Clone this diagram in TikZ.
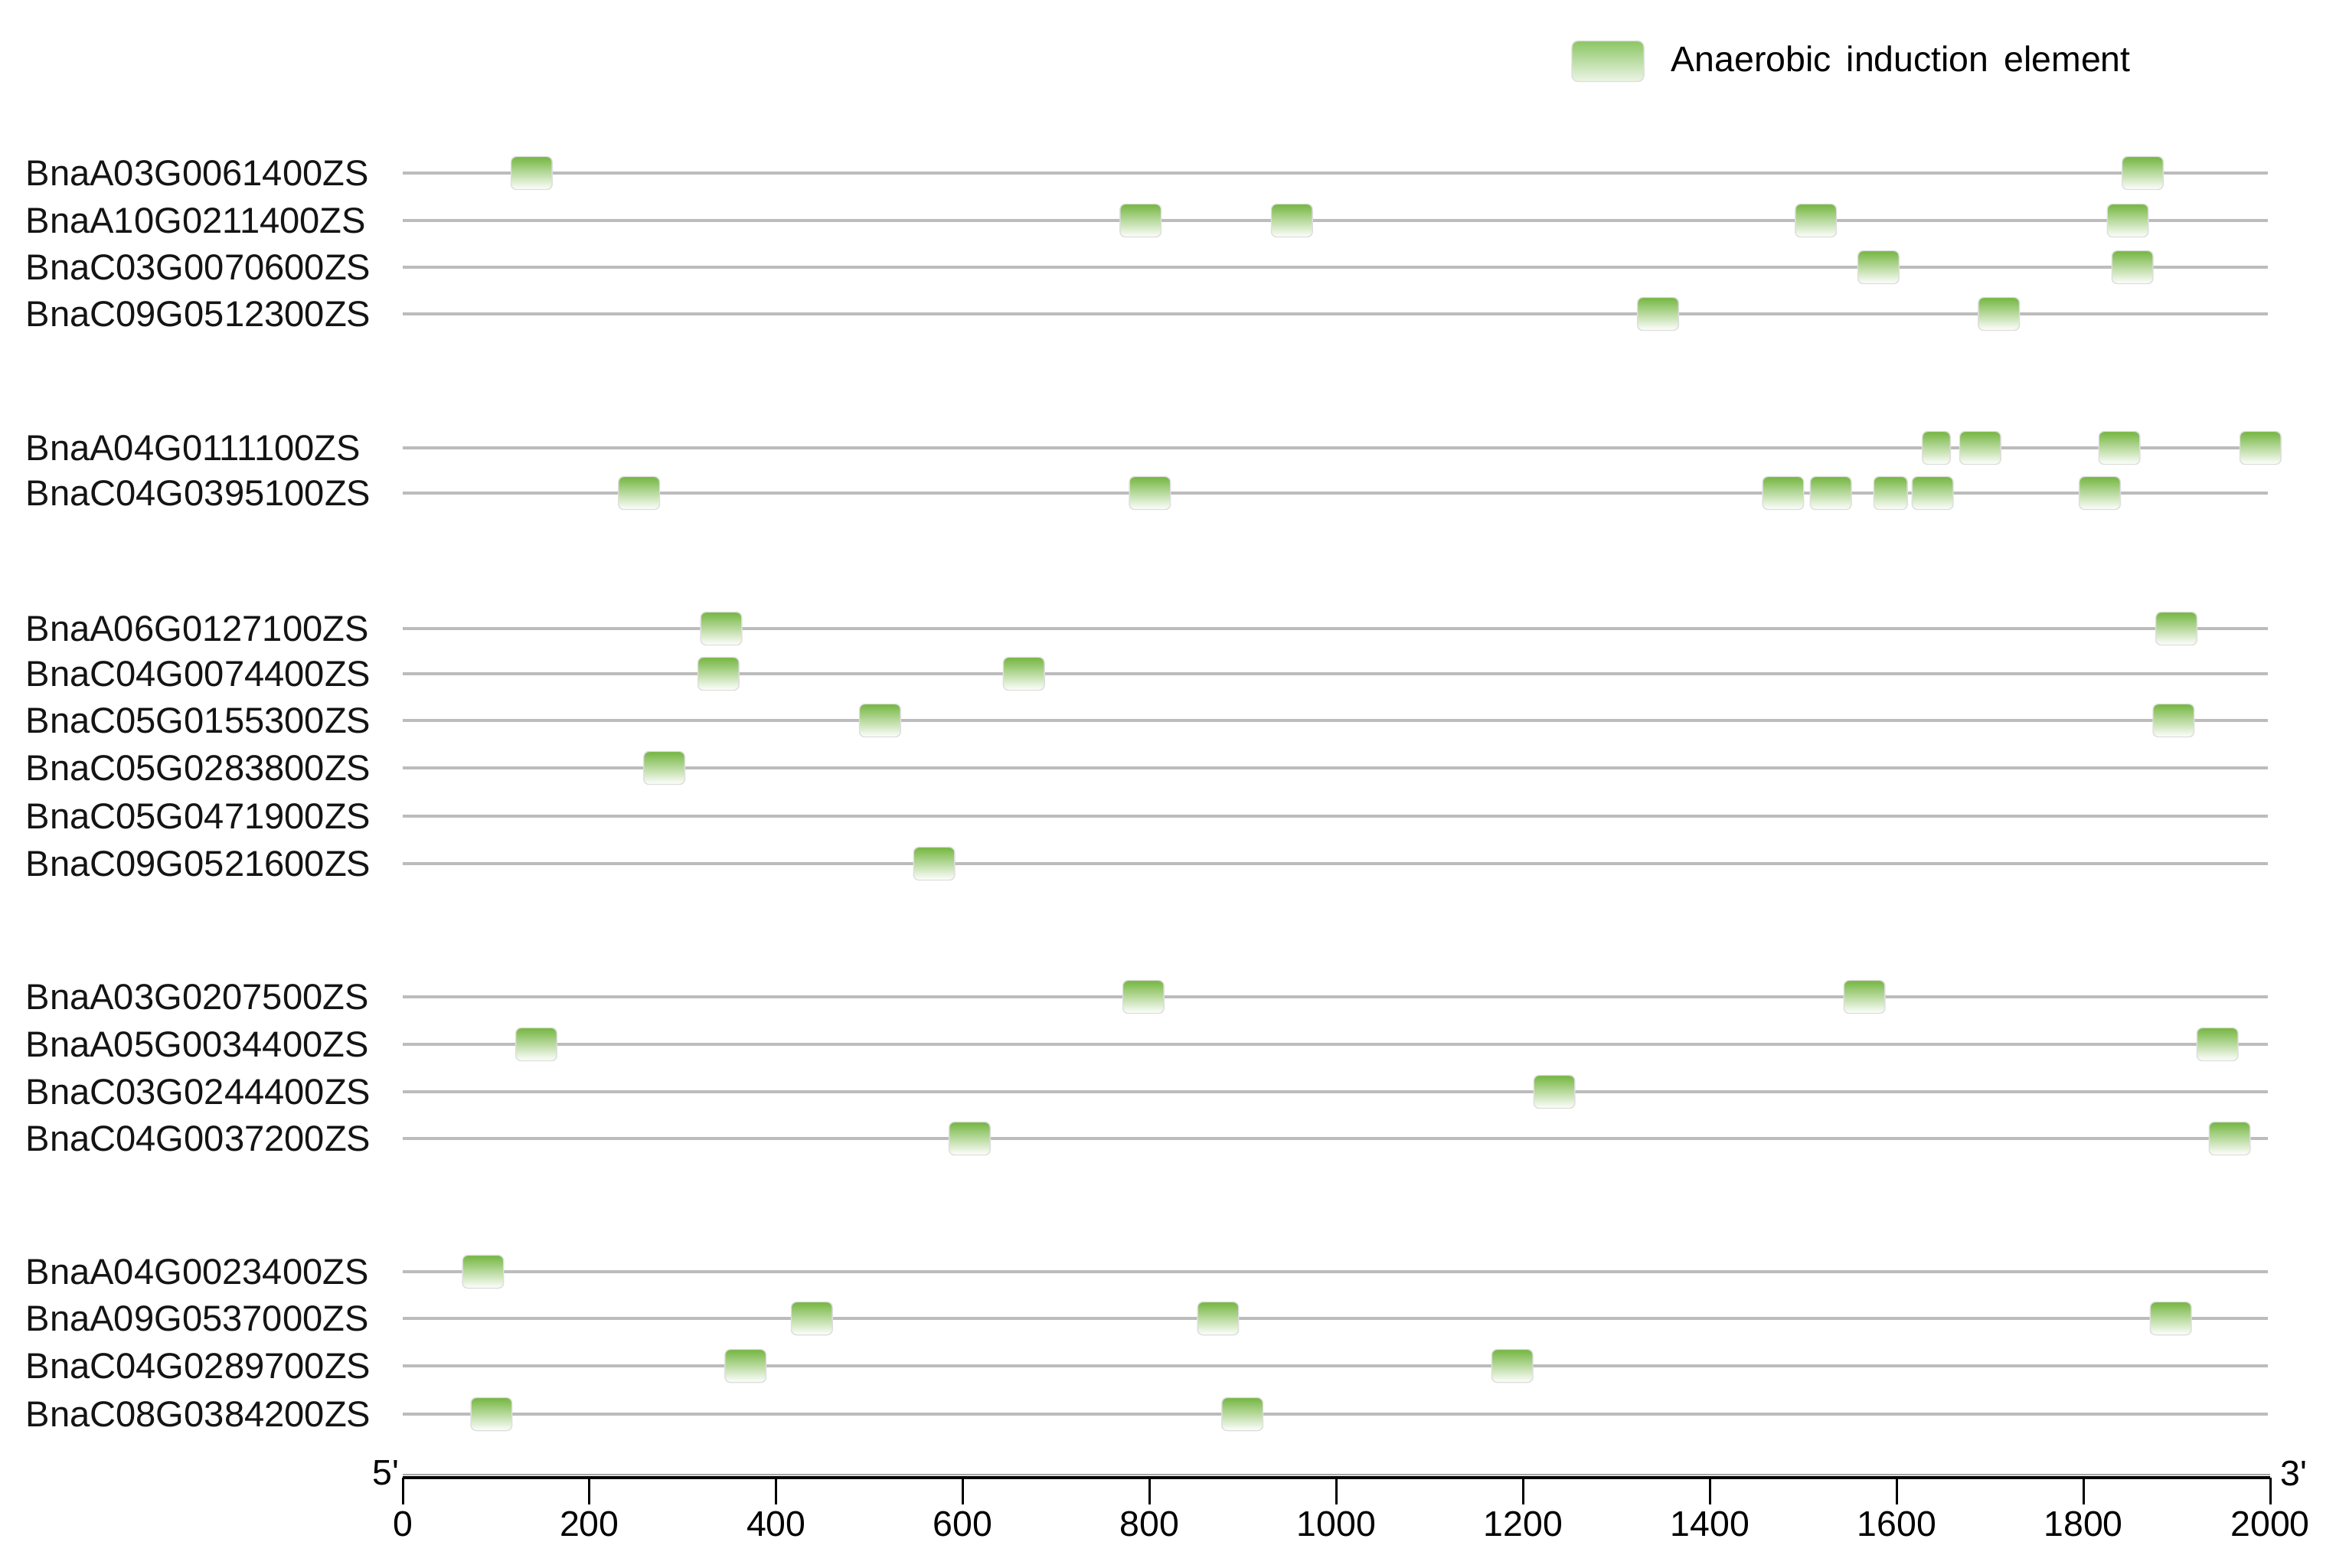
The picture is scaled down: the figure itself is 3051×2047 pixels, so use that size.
\documentclass[tikz,border=0pt]{standalone}
\usepackage{fontspec}
\setmainfont{Liberation Sans}
\definecolor{linegray}{RGB}{188,188,188}
\definecolor{boxedge}{RGB}{222,222,222}
\definecolor{greentop}{RGB}{116,182,64}
\definecolor{greenmid}{RGB}{184,220,152}
\definecolor{legtop}{RGB}{140,198,100}
\definecolor{legmid}{RGB}{196,228,172}
\definecolor{legbot}{RGB}{236,245,230}
\begin{document}
\begin{tikzpicture}[x=0.01cm,y=-0.01cm,
  genelabel/.style={anchor=west, inner sep=0pt, font=\fontsize{13.4}{15}\selectfont, text=black!92},
  geneline/.style={draw=linegray, line width=0.035cm},
  elem/.style={draw=boxedge, line width=0.4pt, rounded corners=0.07cm,
    minimum width=0.537cm, minimum height=0.43cm, inner sep=0pt,
    top color=greentop, middle color=greenmid, bottom color=white},
  legendbox/.style={draw=boxedge, line width=0.4pt, rounded corners=0.08cm,
    minimum width=0.94cm, minimum height=0.53cm, inner sep=0pt,
    top color=legtop, middle color=legmid, bottom color=legbot},
  axisline/.style={draw=black, line width=0.04cm},
  tickline/.style={draw=black, line width=0.03cm},
  ticklabel/.style={inner sep=0pt, font=\fontsize{13.2}{15}\selectfont},
  endlabel/.style={inner sep=0pt, font=\fontsize{13.2}{15}\selectfont},
  legendtext/.style={anchor=west, inner sep=0pt, font=\fontsize{13.2}{15}\selectfont}]
\fill[white] (0,0) rectangle (3051,2047);
\useasboundingbox (0,0) rectangle (3051,2047);

% legend
\node[legendbox] (legbox) at (2100,80) {};
\node[legendtext] (legtext) at (2182,77) {Anaerobic\hspace{0.2cm}induction\hspace{0.2cm}element};

% gene rows
\foreach \r/\y/\name in {
  1/226/BnaA03G0061400ZS, 2/288/BnaA10G0211400ZS, 3/349/BnaC03G0070600ZS, 4/410/BnaC09G0512300ZS,
  5/585/BnaA04G0111100ZS, 6/644/BnaC04G0395100ZS,
  7/821/BnaA06G0127100ZS, 8/880/BnaC04G0074400ZS, 9/941/BnaC05G0155300ZS, 10/1003/BnaC05G0283800ZS,
  11/1066/BnaC05G0471900ZS, 12/1128/BnaC09G0521600ZS,
  13/1302/BnaA03G0207500ZS, 14/1364/BnaA05G0034400ZS, 15/1426/BnaC03G0244400ZS, 16/1487/BnaC04G0037200ZS,
  17/1661/BnaA04G0023400ZS, 18/1722/BnaA09G0537000ZS, 19/1784/BnaC04G0289700ZS, 20/1847/BnaC08G0384200ZS}{
  \node[genelabel] (lab\r) at (33,\y) {\name};
  \coordinate (s\r) at (526,\y);
  \coordinate (e\r) at (2962,\y);
  \draw[geneline] (s\r) -- (e\r);
}

% elements: row / position (bp) / width (bp)
\foreach \r/\u/\w in {
  1/138/44, 1/1863/44,
  2/790/44, 2/952/44, 2/1513/44, 2/1847/44,
  3/1580/44, 3/1852/44,
  4/1344/44, 4/1709/44,
  5/1642/30, 5/1689/44, 5/1838/44, 5/1989/44,
  6/253/44, 6/800/44, 6/1478/44, 6/1529/44, 6/1593/36, 6/1638/44, 6/1817/44,
  7/341/44, 7/1899/44,
  8/338/44, 8/665/44,
  9/511/44, 9/1896/44,
  10/280/44,
  12/569/44,
  13/793/44, 13/1565/44,
  14/143/44, 14/1943/44,
  15/1233/44,
  16/607/44, 16/1956/44,
  17/86/44,
  18/438/44, 18/873/44, 18/1893/44,
  19/367/44, 19/1188/44,
  20/95/44, 20/899/44}{
  \node[elem, minimum width={\w*0.012195cm}] (el-\r-\u) at ([xshift={\u*0.012195cm}]s\r) {};
}

% axis
\coordinate (ax0) at (526,1930);
\coordinate (ax1) at (2965,1930);
\coordinate (sh0) at (526,1926);
\coordinate (sh1) at (2965,1926);
\draw[draw=black!35, line width=0.02cm] (sh0) -- (sh1);
\draw[axisline] (ax0) -- (ax1);
\foreach \k [evaluate=\k as \v using int(200*\k)] in {0,...,10}{
  \coordinate (ta\k) at ({526+243.9*\k},1930);
  \coordinate (tb\k) at ({526+243.9*\k},1965);
  \draw[tickline] (ta\k) -- (tb\k);
  \node[ticklabel] (tl\k) at ({526+243.9*\k},1990) {\v};
}
\node[endlabel, anchor=east] (five) at (522,1924) {5\textquotesingle};
\node[endlabel, anchor=west] (three) at (2978,1924) {3\textquotesingle};
\end{tikzpicture}
\end{document}
